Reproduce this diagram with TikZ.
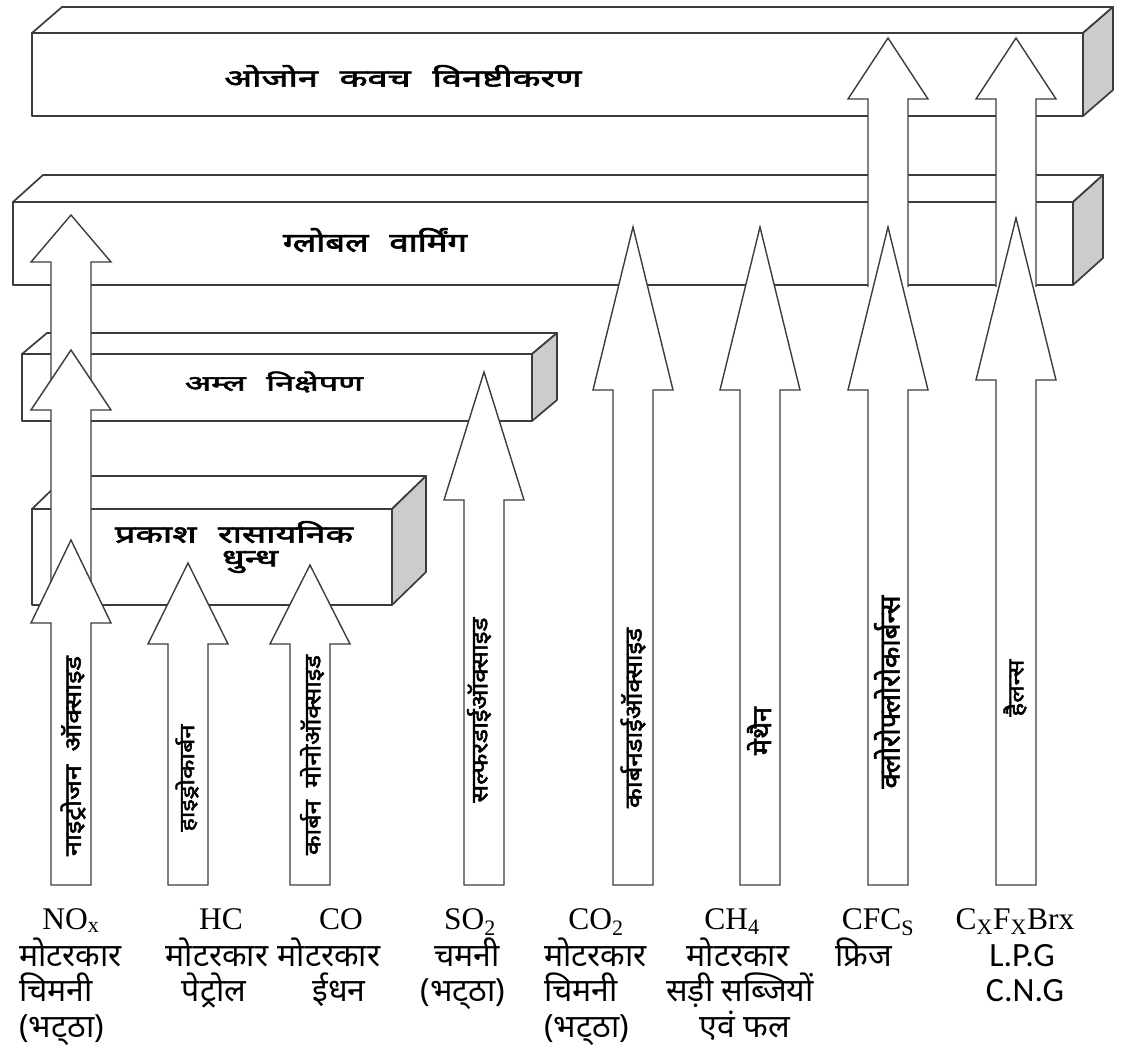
\documentclass[tikz,border=0pt]{standalone}
\usepackage{fontspec}
\usepackage{graphicx}
\newfontfamily\hin[Script=Devanagari]{Noto Sans}
\newfontfamily\hinb[Script=Devanagari,FakeBold=2.2]{Noto Sans}
\newfontfamily\tnr{Liberation Serif}
\newfontfamily\calib{Carlito}
\definecolor{sidegray}{RGB}{204,204,204}
\definecolor{ink}{RGB}{60,60,60}

% 3-D slab: front face, top face and shaded right face
% #1 left, #2 right, #3 top, #4 bottom, #5 depth dx, #6 depth dy
\newcommand\slab[6]{%
  \filldraw[boxline] (#1,#3) rectangle (#2,#4);
  \filldraw[boxline] (#1,#3) -- (#1+#5,#3-#6) -- (#2+#5,#3-#6) -- (#2,#3) -- cycle;
  \filldraw[boxline, fill=sidegray] (#2,#3) -- (#2+#5,#3-#6) -- (#2+#5,#4-#6) -- (#2,#4) -- cycle;}

% block arrow pointing up: #1 centre x, #2 tip y, #3 head base y, #4 foot y
\newcommand\blockarrow[4]{%
  \filldraw[arrowline] (#1,#2) -- (#1+40,#3) -- (#1+20,#3) -- (#1+20,#4)
    -- (#1-20,#4) -- (#1-20,#3) -- (#1-40,#3) -- cycle;}
% same arrow whose foot is hidden under the next arrow (no bottom edge)
\newcommand\openarrow[4]{%
  \fill[white] (#1,#2) -- (#1+40,#3) -- (#1+20,#3) -- (#1+20,#4)
    -- (#1-20,#4) -- (#1-20,#3) -- (#1-40,#3) -- cycle;
  \draw[arrowline] (#1-20,#4) -- (#1-20,#3) -- (#1-40,#3) -- (#1,#2)
    -- (#1+40,#3) -- (#1+20,#3) -- (#1+20,#4);}

\begin{document}
\begin{tikzpicture}[x=1pt, y=-1pt,
  boxline/.style={draw=ink, line width=1.7pt, line join=round, fill=white},
  arrowline/.style={draw=ink, line width=1.4pt, line join=miter, fill=white},
  slabtext/.style={inner sep=0pt, text=black},
  vlabel/.style={rotate=90, inner sep=0pt, text=black},
  hl/.style={inner sep=0pt, anchor=base, font=\hin\fontsize{32}{36}\selectfont},
  hlw/.style={hl, anchor=base west},
  fl/.style={inner sep=0pt, anchor=base, font=\tnr\fontsize{31.5}{36}\selectfont},
  el/.style={inner sep=0pt, anchor=base, font=\calib\fontsize{34}{38}\selectfont}]
\useasboundingbox (0,0) rectangle (1122,1057);

% ---- the four effect slabs ----
\slab{32}{1083}{33}{116}{30}{26}
\slab{13}{1073}{202}{285}{30}{27}
\slab{22}{532}{354}{421}{25}{21}
\slab{32}{392}{509}{605}{34}{33}

\node[slabtext] (ozone) at (403,76)
  {\resizebox*{357pt}{22pt}{\hinb ओजोन\hspace{0.6em}कवच\hspace{0.6em}विनष्टीकरण}};
\node[slabtext] (warming) at (375,240)
  {\resizebox*{184pt}{24pt}{\hinb ग्लोबल\hspace{0.6em}वार्मिंग}};
\node[slabtext] (acid) at (274,382)
  {\resizebox*{178pt}{21pt}{\hinb अम्ल\hspace{0.6em}निक्षेपण}};
\node[slabtext] (smog1) at (234,532)
  {\resizebox*{238pt}{22pt}{\hinb प्रकाश\hspace{0.6em}रासायनिक}};
\node[slabtext] (smog2) at (250,562)
  {\resizebox*{56pt}{22pt}{\hinb धुन्ध}};

% ---- arrows reaching the ozone slab ----
\openarrow{888}{38}{99}{287}
\openarrow{1016}{38}{99}{287}

% ---- stacked arrows of the nitrogen oxides ----
\openarrow{71}{215}{262}{400}
\openarrow{71}{350}{410}{600}
\blockarrow{71}{540}{623}{885}

% ---- remaining arrows ----
\blockarrow{188}{563}{644}{885}
\blockarrow{310}{565}{644}{885}
\blockarrow{484}{372}{500}{885}
\blockarrow{633}{227}{390}{885}
\blockarrow{760}{227}{390}{885}
\blockarrow{888}{227}{390}{885}
\blockarrow{1016}{218}{380}{885}

% ---- names written along the arrows ----
\node[vlabel] (nno) at (73,756)
  {\resizebox*{200pt}{25pt}{\hinb नाइट्रोजन\hspace{0.5em}ऑक्साइड}};
\node[vlabel] (nhc) at (187,778)
  {\resizebox*{107pt}{23pt}{\hinb हाइड्रोकार्बन}};
\node[vlabel] (nco) at (312,755)
  {\resizebox*{200pt}{24pt}{\hinb कार्बन\hspace{0.5em}मोनोऑक्साइड}};
\node[vlabel] (nso) at (479,710)
  {\resizebox*{185pt}{24pt}{\hinb सल्फरडाईऑक्साइड}};
\node[vlabel] (nco2) at (633,718)
  {\resizebox*{180pt}{25pt}{\hinb कार्बनडाईऑक्साइड}};
\node[vlabel] (nch) at (759,731)
  {\resizebox*{48pt}{24pt}{\hinb मेथैन}};
\node[vlabel] (ncfc) at (887,692)
  {\resizebox*{193pt}{26pt}{\hinb क्लोरोफ्लोरोकार्बन्स}};
\node[vlabel] (nhal) at (1015,688)
  {\resizebox*{57pt}{23pt}{\hinb हैलन्स}};

% ---- sources under each arrow ----
\node[fl] (f1) at (71,929) {NO\textsubscript{x}};
\node[hlw] (s1a) at (19,966) {मोटरकार};
\node[hlw] (s1b) at (19,1001) {चिमनी};
\node[hlw] (s1c) at (19,1037) {(भट्^^^^200cठा)};

\node[fl] (f2) at (221,929) {HC};
\node[hl] (s2a) at (217,966) {मोटरकार};
\node[hl] (s2b) at (214,1001) {पेट्रोल};

\node[fl] (f3) at (341,929) {CO};
\node[hl] (s3a) at (329,966) {मोटरकार};
\node[hl] (s3b) at (339,1001) {ईधन};

\node[fl] (f4) at (470,929) {SO\textsubscript{2}};
\node[hl] (s4a) at (467,966) {चमनी};
\node[hl] (s4b) at (463,1001) {(भट्^^^^200cठा)};

\node[fl] (f5) at (596,929) {CO\textsubscript{2}};
\node[hlw] (s5a) at (544,966) {मोटरकार};
\node[hlw] (s5b) at (544,1001) {चिमनी};
\node[hlw] (s5c) at (544,1037) {(भट्^^^^200cठा)};

\node[fl] (f6) at (732,929) {CH\textsubscript{4}};
\node[hl] (s6a) at (738,966) {मोटरकार};
\node[hl] (s6b) at (740,1001) {सड़ी सब्जियों};
\node[hl] (s6c) at (745,1037) {एवं फल};

\node[fl] (f7) at (878,929) {CFC\textsubscript{S}};
\node[hlw] (s7a) at (835,966) {फ्रिज};

\node[fl] (f8) at (1015,929) {C\textsubscript{X}F\textsubscript{X}Brx};
\node[el] (s8a) at (1022,966) {L.P.G};
\node[el] (s8b) at (1025,1001) {C.N.G};
\end{tikzpicture}
\end{document}
